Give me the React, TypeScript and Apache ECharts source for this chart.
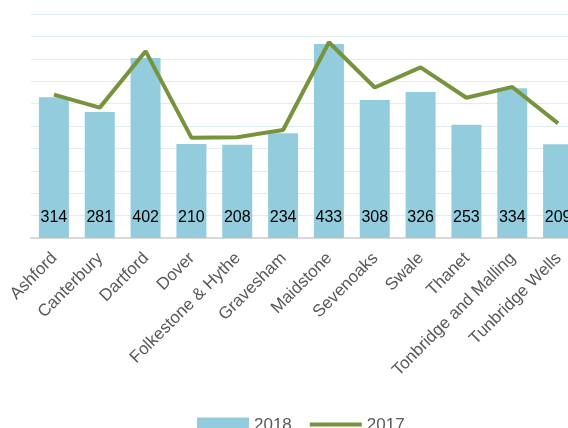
import React, { useEffect, useRef } from "react";
import * as echarts from "echarts";

const categories = [
  "Ashford",
  "Canterbury",
  "Dartford",
  "Dover",
  "Folkestone & Hythe",
  "Gravesham",
  "Maidstone",
  "Sevenoaks",
  "Swale",
  "Thanet",
  "Tonbridge and Malling",
  "Tunbridge Wells",
];
const values2018 = [314, 281, 402, 210, 208, 234, 433, 308, 326, 253, 334, 209];
const values2017 = [320, 291, 417, 224, 225, 241, 437, 336, 381, 313, 337, 256];

const FONT = "'Liberation Sans', Arial, sans-serif";

export default function App() {
  const ref = useRef<HTMLDivElement>(null);
  useEffect(() => {
    if (!ref.current) return;
    const chart = echarts.init(ref.current, undefined, { renderer: "svg" });
    chart.setOption({
      animation: false,
      textStyle: { fontFamily: FONT },
      grid: { left: 31, right: 19, top: 14, bottom: 190 },
      legend: {
        left: 192,
        top: 411,
        itemWidth: 52,
        itemHeight: 14,
        itemGap: 18,
        textStyle: { fontSize: 17, color: "#595959", fontFamily: FONT },
        data: [
          { name: "2018", icon: "rect" },
          { name: "2017", icon: "path://M0,0L52,0L52,4L0,4Z" },
        ],
      },
      xAxis: {
        type: "category",
        data: categories,
        axisTick: { show: false },
        axisLine: { lineStyle: { color: "#D9D9D9", width: 2 } },
        axisLabel: {
          rotate: 45,
          interval: 0,
          margin: 17,
          fontSize: 17,
          color: "#595959",
          fontFamily: FONT,
        },
      },
      yAxis: {
        type: "value",
        min: 0,
        max: 500,
        interval: 50,
        axisLabel: { show: false },
        axisLine: { show: false },
        axisTick: { show: false },
        splitLine: { lineStyle: { color: "#E0EDF2", width: 1 } },
      },
      series: [
        {
          name: "2018",
          type: "bar",
          data: values2018,
          barWidth: 30,
          itemStyle: { color: "#93CDDD" },
          label: {
            show: true,
            position: "insideBottom",
            distance: 14,
            fontSize: 16,
            color: "#000000",
            fontFamily: FONT,
          },
        },
        {
          name: "2017",
          type: "line",
          data: values2017,
          symbol: "none",
          showSymbol: false,
          lineStyle: { color: "#77933C", width: 4 },
          itemStyle: { color: "#77933C" },
        },
      ],
    });
    return () => chart.dispose();
  }, []);
  return (
    <div
      ref={ref}
      style={{ position: "fixed", left: 0, top: 0, width: 600, height: 428 }}
    />
  );
}
